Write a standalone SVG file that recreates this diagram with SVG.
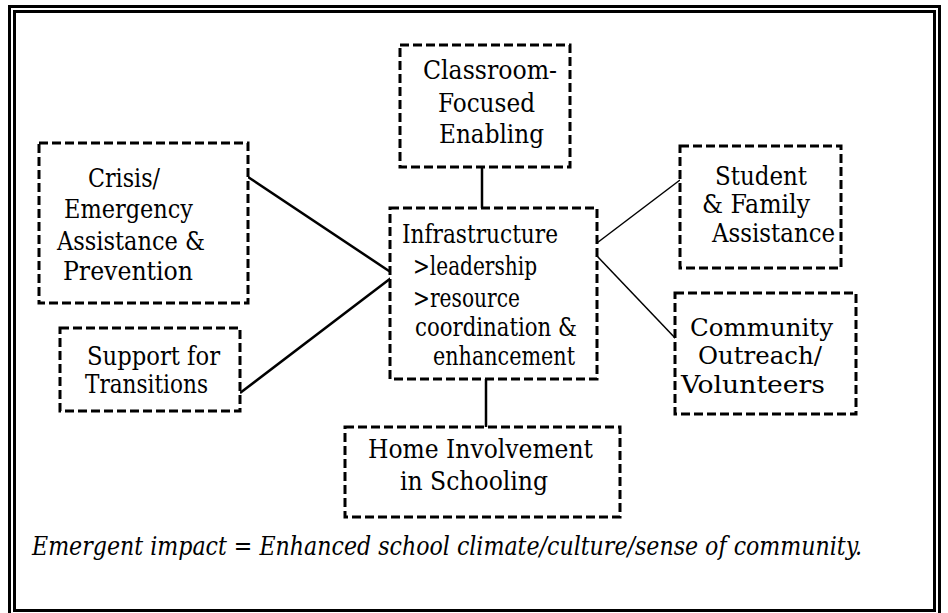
<svg xmlns="http://www.w3.org/2000/svg" width="948" height="613" viewBox="0 0 948 613">
<style>
.box{fill:#fff;stroke:#000;stroke-width:3;stroke-dasharray:9 4}
.c{stroke:#000;fill:none}
text{font-family:"DejaVu Serif Condensed","DejaVu Serif",serif;font-stretch:condensed;font-size:26px;fill:#000}
.i{font-style:italic}
.s{font-size:24.5px}
</style>
<rect x="0" y="0" width="948" height="613" fill="#fff"/>
<g id="frame" fill="none" stroke="#000" stroke-width="3">
<rect x="9.5" y="6.5" width="930" height="610"/>
<rect x="14.5" y="11.5" width="920" height="599"/>
</g>
<g id="connectors">
<line class="c" x1="482" y1="167" x2="482" y2="208" stroke-width="2.5"/>
<line class="c" x1="486" y1="379" x2="486" y2="427" stroke-width="2.5"/>
<line class="c" x1="248" y1="177" x2="395" y2="275" stroke-width="2.5"/>
<line class="c" x1="240" y1="393" x2="395" y2="275" stroke-width="2.5"/>
<line class="c" x1="589" y1="249" x2="680" y2="180" stroke-width="1.5"/>
<line class="c" x1="597" y1="256" x2="677" y2="340" stroke-width="1.5"/>
</g>
<g id="classroom">
<rect class="box" x="400" y="45" width="170" height="122"/>
<text x="423" y="79" textLength="134" lengthAdjust="spacingAndGlyphs">Classroom-</text>
<text x="438" y="112" textLength="97" lengthAdjust="spacingAndGlyphs">Focused</text>
<text x="439" y="143" textLength="105" lengthAdjust="spacingAndGlyphs">Enabling</text>
</g>
<g id="infrastructure">
<rect class="box" x="390" y="208" width="207" height="171"/>
<text x="402" y="243" textLength="156" lengthAdjust="spacingAndGlyphs">Infrastructure</text>
<text x="413" y="275" textLength="124" lengthAdjust="spacingAndGlyphs">&gt;leadership</text>
<text x="413" y="307" textLength="107" lengthAdjust="spacingAndGlyphs">&gt;resource</text>
<text x="415" y="336" textLength="162" lengthAdjust="spacingAndGlyphs">coordination &amp;</text>
<text x="433" y="365" textLength="142" lengthAdjust="spacingAndGlyphs">enhancement</text>
</g>
<g id="crisis">
<rect class="box" x="39" y="143" width="209" height="160"/>
<text x="88" y="187" textLength="72" lengthAdjust="spacingAndGlyphs">Crisis/</text>
<text x="64" y="218" textLength="129" lengthAdjust="spacingAndGlyphs">Emergency</text>
<text x="57" y="250" textLength="148" lengthAdjust="spacingAndGlyphs">Assistance &amp;</text>
<text x="63" y="280" textLength="130" lengthAdjust="spacingAndGlyphs">Prevention</text>
</g>
<g id="support">
<rect class="box" x="60" y="328" width="180" height="83"/>
<text x="87" y="365" textLength="133" lengthAdjust="spacingAndGlyphs">Support for</text>
<text x="85" y="393" textLength="123" lengthAdjust="spacingAndGlyphs">Transitions</text>
</g>
<g id="student">
<rect class="box" x="680" y="146" width="161" height="122"/>
<text x="715" y="185" textLength="92" lengthAdjust="spacingAndGlyphs">Student</text>
<text x="702" y="213" textLength="108" lengthAdjust="spacingAndGlyphs">&amp; Family</text>
<text x="712" y="242" textLength="123" lengthAdjust="spacingAndGlyphs">Assistance</text>
</g>
<g id="community">
<rect class="box" x="675" y="293" width="181" height="121"/>
<text class="s" x="690" y="336" textLength="143" lengthAdjust="spacingAndGlyphs">Community</text>
<text class="s" x="698" y="364" textLength="124" lengthAdjust="spacingAndGlyphs">Outreach/</text>
<text class="s" x="681" y="393" textLength="144" lengthAdjust="spacingAndGlyphs">Volunteers</text>
</g>
<g id="home">
<rect class="box" x="345" y="427" width="275" height="90"/>
<text x="368" y="458" textLength="225" lengthAdjust="spacingAndGlyphs">Home Involvement</text>
<text x="400" y="490" textLength="148" lengthAdjust="spacingAndGlyphs">in Schooling</text>
</g>
<text class="i" x="32" y="555" textLength="830" lengthAdjust="spacingAndGlyphs">Emergent impact = Enhanced school climate/culture/sense of community.</text>
</svg>
